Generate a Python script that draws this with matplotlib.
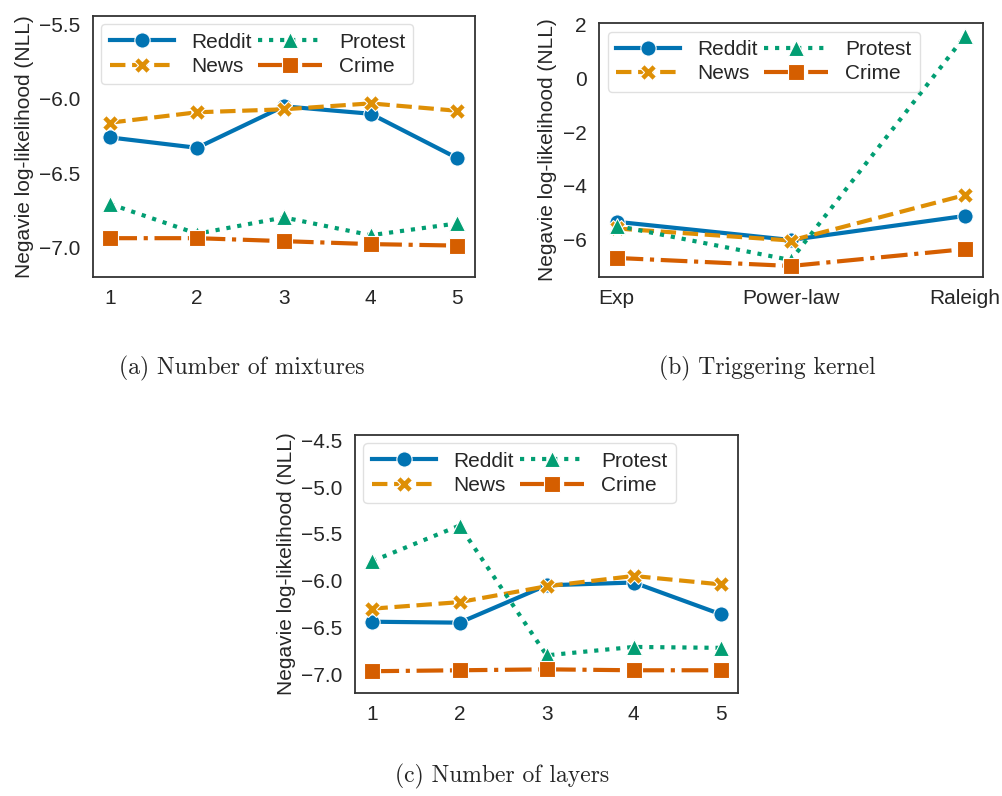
import matplotlib.pyplot as plt

# datasets, in legend / drawing order
names = ['Reddit', 'News', 'Protest', 'Crime']
colors = ['#0173b2', '#de8f05', '#029e73', '#d55e00']
styles = ['-', '--', ':', '-.']
markers = ['o', 'X', '^', 's']

# (a) number of mixtures
mixtures = [1, 2, 3, 4, 5]
mix_reddit = [-6.26, -6.33, -6.05, -6.10, -6.40]
mix_news = [-6.16, -6.09, -6.07, -6.03, -6.08]
mix_protest = [-6.71, -6.91, -6.80, -6.92, -6.84]
mix_crime = [-6.94, -6.94, -6.96, -6.98, -6.99]

# (b) triggering kernel
kernels = ['Exp', 'Power-law', 'Raleigh']
ker_reddit = [-5.35, -6.03, -5.13]
ker_news = [-5.60, -6.05, -4.35]
ker_protest = [-5.50, -6.78, 1.59]
ker_crime = [-6.70, -7.00, -6.37]

# (c) number of layers
layers = [1, 2, 3, 4, 5]
lay_reddit = [-6.44, -6.45, -6.05, -6.02, -6.36]
lay_news = [-6.30, -6.23, -6.06, -5.95, -6.04]
lay_protest = [-5.79, -5.41, -6.80, -6.71, -6.72]
lay_crime = [-6.97, -6.96, -6.95, -6.96, -6.96]

plt.rcParams['font.family'] = ['Liberation Sans', 'DejaVu Sans']
plt.rcParams['text.color'] = '0.15'
plt.rcParams['axes.labelcolor'] = '0.15'
plt.rcParams['xtick.color'] = '0.15'
plt.rcParams['ytick.color'] = '0.15'

fig = plt.figure(figsize=(10.02, 7.96), dpi=100)
ax_a = fig.add_axes([0.0928, 0.6524, 0.381, 0.3275])
ax_b = fig.add_axes([0.598, 0.6524, 0.3826, 0.3183])
ax_c = fig.add_axes([0.3543, 0.1298, 0.3825, 0.3237])


def draw_panel(ax, x, series, yticks, ylim):
    """Draw the four datasets on one axes"""
    for label, y, c, ls, m in zip(names, series, colors, styles, markers):
        ax.plot(x, y, color=c, linestyle=ls, marker=m, lw=3, ms=11,
                mec='white', mew=0.8, label=label)
    ax.set_yticks(yticks)
    ax.set_ylim(ylim)
    ax.set_ylabel('Negavie log-likelihood (NLL)', fontsize=15)
    ax.tick_params(length=0, pad=9, labelsize=15)
    for sp in ax.spines.values():
        sp.set_color('0.2')
        sp.set_linewidth(1.3)
    ax.legend(loc='upper left', ncol=2, fontsize=15, handlelength=3.1,
              handletextpad=0.8, columnspacing=0.3, labelspacing=0.25,
              borderaxespad=0.4, edgecolor='0.85')


draw_panel(ax_a, mixtures, [mix_reddit, mix_news, mix_protest, mix_crime],
           [-5.5, -6.0, -6.5, -7.0], (-7.2, -5.44))
draw_panel(ax_b, kernels, [ker_reddit, ker_news, ker_protest, ker_crime],
           [2, 0, -2, -4, -6], (-7.4, 2.06))
draw_panel(ax_c, layers, [lay_reddit, lay_news, lay_protest, lay_crime],
           [-4.5, -5.0, -5.5, -6.0, -6.5, -7.0], (-7.2, -4.44))
for ax in (ax_a, ax_c):
    ax.set_yticklabels([('%.1f' % v).replace('-', '\u2212')
                        for v in ax.get_yticks()])

# sub-figure captions
fig.text(0.2415, 0.537, '(a) Number of mixtures', family='cmr10',
         fontsize=17, ha='center', va='center')
fig.text(0.7655, 0.537, '(b) Triggering kernel', family='cmr10',
         fontsize=17, ha='center', va='center')
fig.text(0.501, 0.025, '(c) Number of layers', family='cmr10',
         fontsize=17, ha='center', va='center')

fig.savefig('out.png', dpi=100)
